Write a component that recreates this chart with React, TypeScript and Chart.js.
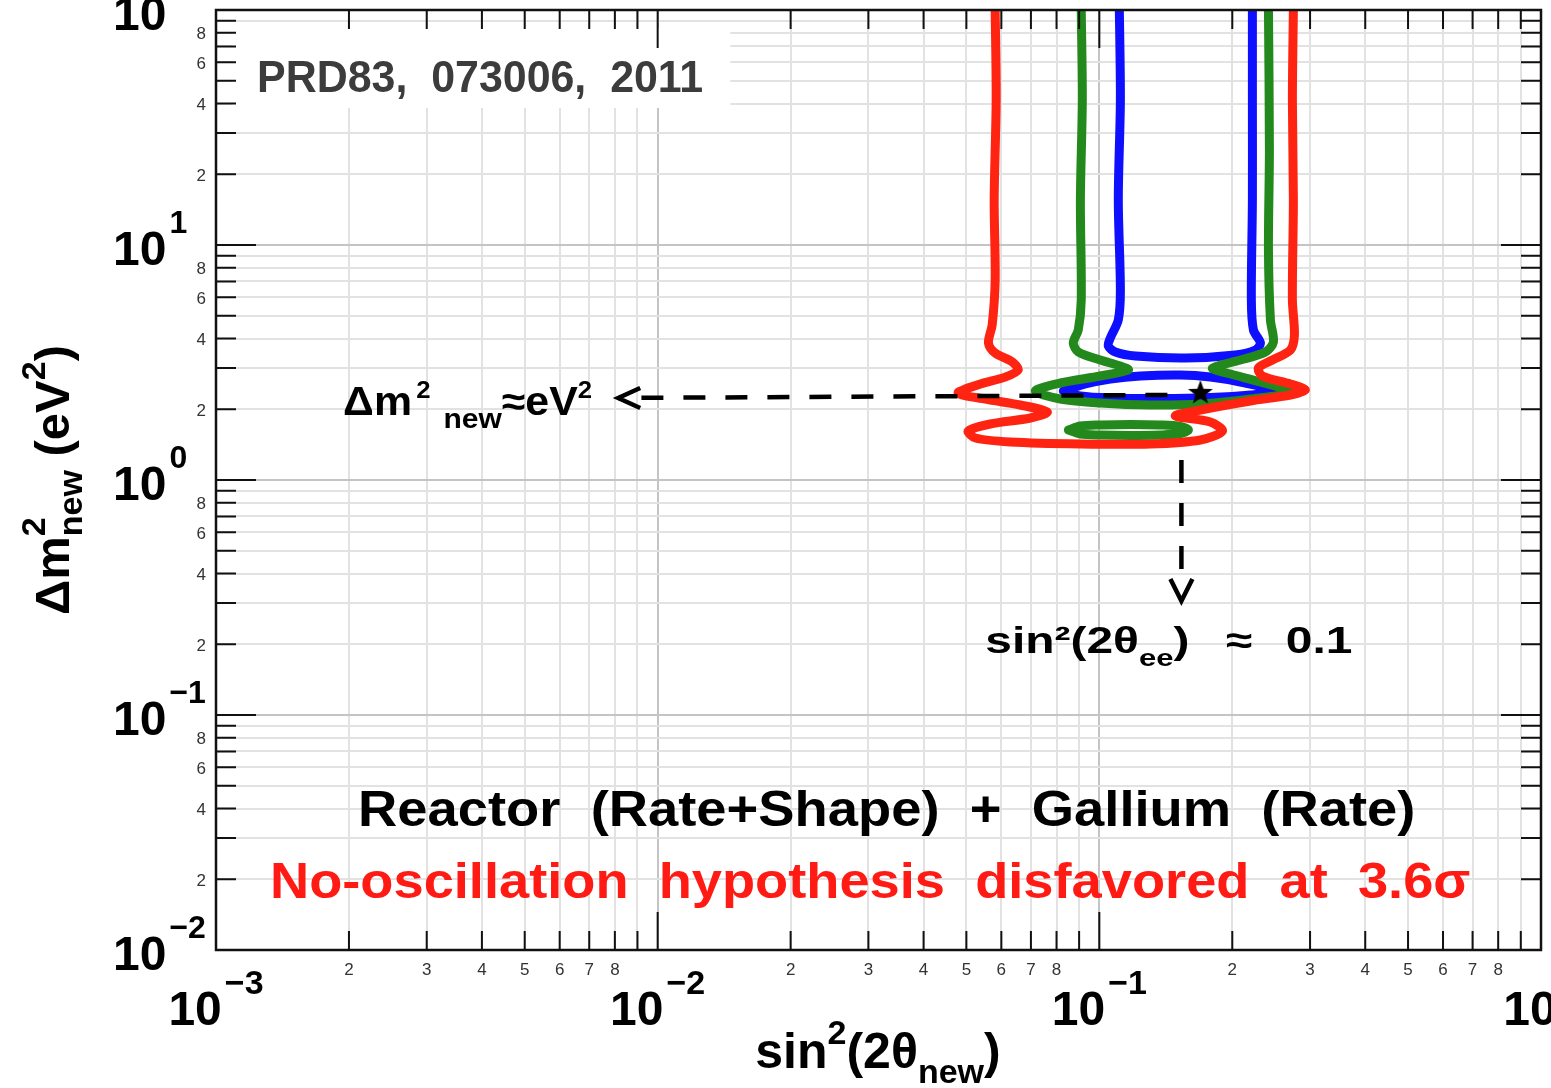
import React, { useEffect, useRef } from 'react';
import { Chart, registerables } from 'chart.js';

Chart.register(...registerables);

// ---------- axes ----------
const X_EXPONENTS = [-3, -2, -1, 0];
const Y_EXPONENTS = [-2, -1, 0, 1, 2];
const X_MINOR_LABELS = [2, 3, 4, 5, 6, 7, 8];
const Y_MINOR_LABELS = [2, 4, 6, 8];

// ---------- contours (sin^2(2θ), Δm^2) ----------
const RED_X = [0.0581, 0.0584, 0.0578, 0.0581, 0.0572, 0.0561, 0.0581, 0.0635, 0.0655, 0.0612, 0.0538, 0.0479, 0.0552, 0.0662, 0.0762, 0.0698, 0.0566, 0.0505, 0.0524, 0.0629, 0.0906, 0.1305, 0.1694, 0.190, 0.1784, 0.1486, 0.1694, 0.2198, 0.2708, 0.2928, 0.2708, 0.234, 0.2292, 0.2465, 0.2708, 0.2765, 0.2736, 0.275, 0.2736, 0.275];
const RED_Y = [100, 41.4, 15.54, 7.10, 4.57, 3.83, 3.47, 3.18, 2.94, 2.74, 2.56, 2.345, 2.21, 2.085, 1.947, 1.836, 1.731, 1.616, 1.509, 1.451, 1.423, 1.423, 1.48, 1.616, 1.765, 1.872, 1.986, 2.169, 2.30, 2.415, 2.562, 2.77, 3.00, 3.24, 3.574, 4.14, 5.83, 15.54, 41.4, 100];

const GREEN_X = [0.0910, 0.0915, 0.0906, 0.0910, 0.0896, 0.0873, 0.0896, 0.1005, 0.1116, 0.1163, 0.1005, 0.0816, 0.0716, 0.0816, 0.1005, 0.1305, 0.1694, 0.2198, 0.2708, 0.2316, 0.1981, 0.1803, 0.2086, 0.2377, 0.2478, 0.244, 0.2415, 0.2427, 0.2415];
const GREEN_Y = [100, 41.4, 15.54, 5.83, 4.35, 3.83, 3.505, 3.24, 3.055, 2.94, 2.77, 2.587, 2.391, 2.212, 2.127, 2.085, 2.106, 2.212, 2.368, 2.612, 2.825, 2.996, 3.24, 3.505, 3.866, 4.80, 9.52, 25.4, 100];

const GREEN_ISLAND_X = [0.0851, 0.0906, 0.1005, 0.1176, 0.1375, 0.1526, 0.1591, 0.1526, 0.1375, 0.1176, 0.1005, 0.0906, 0.0851];
const GREEN_ISLAND_Y = [1.632, 1.697, 1.714, 1.723, 1.714, 1.689, 1.632, 1.577, 1.554, 1.547, 1.554, 1.569, 1.632];

const BLUE_X = [0.1110, 0.1116, 0.1104, 0.1116, 0.1104, 0.1059, 0.1048, 0.1087, 0.1207, 0.1566, 0.2032, 0.2256, 0.2316, 0.2233, 0.2209, 0.2221, 0.2221, 0.2221];
const BLUE_Y = [100, 41.4, 15.54, 6.43, 4.80, 4.02, 3.717, 3.505, 3.37, 3.304, 3.403, 3.574, 3.828, 4.347, 5.83, 15.54, 41.4, 100];

const BLUE_ISLAND_X = [0.0829, 0.0930, 0.1059, 0.1239, 0.1526, 0.1784, 0.2086, 0.2531, 0.2198, 0.1784, 0.1375, 0.1059, 0.0906, 0.0829];
const BLUE_ISLAND_Y = [2.391, 2.562, 2.69, 2.77, 2.797, 2.743, 2.612, 2.391, 2.30, 2.245, 2.223, 2.234, 2.278, 2.391];

// best fit point and guide arrows
const STAR_X = [0.1694];
const STAR_Y = [2.368];
const H_ARROW_X = [0.1426, 0.00814];
const H_ARROW_Y = [2.30, 2.234];
const V_ARROW_X = [0.1534, 0.1534];
const V_ARROW_Y = [1.216, 0.4182];
const V_ARROW_TIP_Y = 0.3055;

// ---------- styling ----------
const FONT = '"Liberation Sans", Arial, Helvetica, sans-serif';
const RED = '#ff2412';
const GREEN = '#24891c';
const BLUE = '#0f0fff';

type Run = { t: string; s: number; dy?: number; dx?: number };
type Note = { runs: Run[]; x0: number; x1: number; y: number; color: string };

const NOTES: Note[] = [
  { runs: [{ t: 'PRD83,  073006,  2011', s: 44 }], x0: 0.001239, x1: 0.01268, y: 44.78, color: '#3c3c3c' },
  {
    runs: [
      { t: 'Δm', s: 40 },
      { t: '2', s: 24, dy: -17, dx: 4 },
      { t: 'new', s: 28, dy: 13, dx: 12 },
      { t: '≈eV', s: 40 },
      { t: '2', s: 24, dy: -17 },
    ],
    x0: 0.00194, x1: 0.007105, y: 1.891, color: '#000',
  },
  {
    runs: [
      { t: 'sin²(2θ', s: 37 },
      { t: 'ee', s: 24, dy: 13 },
      { t: ')', s: 37 },
      { t: '≈', s: 37, dx: 28 },
      { t: '0.1', s: 37, dx: 26 },
    ],
    x0: 0.05518, x1: 0.3741, y: 0.1836, color: '#000',
  },
  { runs: [{ t: 'Reactor  (Rate+Shape)  +  Gallium  (Rate)', s: 50 }], x0: 0.002097, x1: 0.5195, y: 0.0337, color: '#000' },
  { runs: [{ t: 'No-oscillation  hypothesis  disfavored  at  3.6σ', s: 50 }], x0: 0.001325, x1: 0.6922, y: 0.01665, color: '#ff1a14' },
];
const PRD_BOX = { x0: 0.001087, x1: 0.0146, y0: 38.28, y1: 83.8 };

const pts = (xs: number[], ys: number[]) => xs.map((x, i) => ({ x, y: ys[i] }));

function logTicks(exps: number[]) {
  const out: { v: number; major: boolean }[] = [];
  for (let i = 0; i < exps.length - 1; i++) {
    for (let m = 1; m <= 9; m++) out.push({ v: m * Math.pow(10, exps[i]), major: m === 1 });
  }
  out.push({ v: Math.pow(10, exps[exps.length - 1]), major: true });
  return out;
}

function runsWidth(ctx: CanvasRenderingContext2D, runs: Run[]) {
  let w = 0;
  for (const r of runs) {
    ctx.font = `bold ${r.s}px ${FONT}`;
    w += (r.dx || 0) + ctx.measureText(r.t).width;
  }
  return w;
}

function drawRuns(ctx: CanvasRenderingContext2D, runs: Run[], x: number, y: number) {
  ctx.textAlign = 'left';
  ctx.textBaseline = 'alphabetic';
  for (const r of runs) {
    ctx.font = `bold ${r.s}px ${FONT}`;
    x += r.dx || 0;
    ctx.fillText(r.t, x, y + (r.dy || 0));
    x += ctx.measureText(r.t).width;
  }
}

function supLabel(exp: number) {
  return exp < 0 ? '\u2212' + Math.abs(exp) : String(exp);
}

const overlay = {
  id: 'overlay',
  beforeDatasetsDraw(chart: any) {
    const { ctx, scales } = chart;
    const l = scales.x.getPixelForValue(PRD_BOX.x0);
    const r = scales.x.getPixelForValue(PRD_BOX.x1);
    const t = scales.y.getPixelForValue(PRD_BOX.y1);
    const b = scales.y.getPixelForValue(PRD_BOX.y0);
    ctx.save();
    ctx.fillStyle = '#ffffff';
    ctx.fillRect(l, t, r - l, b - t);
    ctx.restore();
  },
  afterDatasetsDraw(chart: any) {
    const { ctx, scales } = chart;
    ctx.save();
    ctx.strokeStyle = '#000';
    ctx.lineWidth = 4.5;
    ctx.lineJoin = 'miter';
    const hx = scales.x.getPixelForValue(H_ARROW_X[1]);
    const hy = scales.y.getPixelForValue(H_ARROW_Y[1]);
    ctx.beginPath();
    ctx.moveTo(hx + 22, hy - 10);
    ctx.lineTo(hx, hy);
    ctx.lineTo(hx + 22, hy + 10);
    ctx.stroke();
    const vx = scales.x.getPixelForValue(V_ARROW_X[1]);
    const vy = scales.y.getPixelForValue(V_ARROW_TIP_Y);
    ctx.beginPath();
    ctx.moveTo(vx - 11, vy - 22);
    ctx.lineTo(vx, vy);
    ctx.lineTo(vx + 11, vy - 22);
    ctx.stroke();
    ctx.restore();
  },
  afterDraw(chart: any) {
    const { ctx, chartArea: ca, scales } = chart;
    const xs = scales.x, ys = scales.y;
    ctx.save();

    // frame
    ctx.strokeStyle = '#111';
    ctx.lineWidth = 2.5;
    ctx.strokeRect(ca.left, ca.top, ca.right - ca.left, ca.bottom - ca.top);

    // tick marks
    ctx.lineWidth = 2;
    ctx.beginPath();
    for (const t of logTicks(X_EXPONENTS)) {
      const p = xs.getPixelForValue(t.v);
      const L = t.major ? 38 : 19;
      ctx.moveTo(p, ca.bottom); ctx.lineTo(p, ca.bottom - L);
      ctx.moveTo(p, ca.top); ctx.lineTo(p, ca.top + L);
    }
    for (const t of logTicks(Y_EXPONENTS)) {
      const p = ys.getPixelForValue(t.v);
      const L = t.major ? 40 : 20;
      ctx.moveTo(ca.left, p); ctx.lineTo(ca.left + L, p);
      ctx.moveTo(ca.right, p); ctx.lineTo(ca.right - L, p);
    }
    ctx.stroke();

    // y major labels
    ctx.fillStyle = '#000';
    ctx.textAlign = 'left';
    ctx.textBaseline = 'alphabetic';
    for (const e of Y_EXPONENTS) {
      const p = ys.getPixelForValue(Math.pow(10, e));
      ctx.font = `bold 48px ${FONT}`;
      ctx.fillText('10', 113, p + 20);
      const w = ctx.measureText('10').width;
      ctx.font = `bold 32px ${FONT}`;
      ctx.fillText(supLabel(e), 113 + w + 3, p - 12);
    }
    // y minor labels
    ctx.font = `17px ${FONT}`;
    ctx.fillStyle = '#333';
    ctx.textAlign = 'right';
    ctx.textBaseline = 'middle';
    for (let i = 0; i < Y_EXPONENTS.length - 1; i++) {
      for (const m of Y_MINOR_LABELS) {
        const p = ys.getPixelForValue(m * Math.pow(10, Y_EXPONENTS[i]));
        ctx.fillText(String(m), 206, p + 2);
      }
    }
    // x minor labels
    ctx.textAlign = 'center';
    ctx.textBaseline = 'alphabetic';
    for (let i = 0; i < X_EXPONENTS.length - 1; i++) {
      for (const m of X_MINOR_LABELS) {
        const p = xs.getPixelForValue(m * Math.pow(10, X_EXPONENTS[i]));
        ctx.fillText(String(m), p, 975);
      }
    }
    // x major labels
    ctx.fillStyle = '#000';
    ctx.textAlign = 'left';
    for (const e of X_EXPONENTS) {
      const p = xs.getPixelForValue(Math.pow(10, e));
      ctx.font = `bold 48px ${FONT}`;
      const w10 = ctx.measureText('10').width;
      ctx.font = `bold 34px ${FONT}`;
      const ws = ctx.measureText(supLabel(e)).width;
      const start = p - (w10 + 3 + ws) / 2;
      ctx.font = `bold 48px ${FONT}`;
      ctx.fillText('10', start, 1025);
      ctx.font = `bold 34px ${FONT}`;
      ctx.fillText(supLabel(e), start + w10 + 3, 994);
    }

    // axis titles
    const xTitle: Run[] = [
      { t: 'sin', s: 50 }, { t: '2', s: 34, dy: -24 }, { t: '(2θ', s: 50 }, { t: 'new', s: 34, dy: 15 }, { t: ')', s: 50 },
    ];
    const wx = runsWidth(ctx, xTitle);
    ctx.fillStyle = '#000';
    drawRuns(ctx, xTitle, 878 - wx / 2, 1068);

    const yTitle: Run[] = [
      { t: 'Δm', s: 49 }, { t: '2', s: 34, dy: -24 }, { t: 'new', s: 34, dy: 13, dx: -19 }, { t: ' (eV', s: 49 }, { t: '2', s: 34, dy: -24 }, { t: ')', s: 49 },
    ];
    ctx.save();
    ctx.translate(69, 480);
    ctx.rotate(-Math.PI / 2);
    const wy = runsWidth(ctx, yTitle);
    drawRuns(ctx, yTitle, -wy / 2, 0);
    ctx.restore();

    // annotations (stretched horizontally to the span they occupy)
    for (const n of NOTES) {
      const l = xs.getPixelForValue(n.x0);
      const r = xs.getPixelForValue(n.x1);
      const b = ys.getPixelForValue(n.y);
      const w0 = runsWidth(ctx, n.runs);
      const sx = (r - l) / w0;
      ctx.save();
      ctx.translate(l, b);
      ctx.scale(sx, 1);
      ctx.fillStyle = n.color;
      drawRuns(ctx, n.runs, 0, 0);
      ctx.restore();
    }
    ctx.restore();
  },
};

function makeStar() {
  const c = document.createElement('canvas');
  c.width = 30; c.height = 30;
  const g = c.getContext('2d')!;
  g.fillStyle = '#000';
  g.beginPath();
  for (let i = 0; i < 10; i++) {
    const rad = i % 2 === 0 ? 13 : 5.3;
    const a = -Math.PI / 2 + (i * Math.PI) / 5;
    const px = 15 + rad * Math.cos(a);
    const py = 16 + rad * Math.sin(a);
    if (i === 0) g.moveTo(px, py); else g.lineTo(px, py);
  }
  g.closePath();
  g.fill();
  return c;
}

export default function App() {
  const ref = useRef<HTMLCanvasElement>(null);
  useEffect(() => {
    document.body.style.margin = '0';
    document.body.style.overflow = 'hidden';
    const tickValues = (exps: number[]) => logTicks(exps).map((t) => ({ value: t.v }));
    const isMajor = (v: number) => Math.abs(Math.log10(v) - Math.round(Math.log10(v))) < 1e-6;
    const contour = (label: string, data: any, color: string) => ({
      label, data, borderColor: color, borderWidth: 9, pointRadius: 0, tension: 0.3, fill: false,
      borderCapStyle: 'round', borderJoinStyle: 'round',
    });
    const chart = new Chart(ref.current!, {
      type: 'line',
      data: {
        datasets: [
          { label: 'best fit', data: pts(STAR_X, STAR_Y), showLine: false, pointStyle: makeStar(), pointRadius: 15, borderColor: '#000', backgroundColor: '#000' } as any,
          { label: 'dm2 guide', data: pts(H_ARROW_X, H_ARROW_Y), borderColor: '#000', borderWidth: 4.5, borderDash: [22, 20], pointRadius: 0, tension: 0 },
          { label: 'sin2 guide', data: pts(V_ARROW_X, V_ARROW_Y), borderColor: '#000', borderWidth: 4.5, borderDash: [23, 20], pointRadius: 0, tension: 0 },
          contour('red', pts(RED_X, RED_Y), RED),
          contour('green island', pts(GREEN_ISLAND_X, GREEN_ISLAND_Y), GREEN),
          contour('green', pts(GREEN_X, GREEN_Y), GREEN),
          contour('blue island', pts(BLUE_ISLAND_X, BLUE_ISLAND_Y), BLUE),
          contour('blue', pts(BLUE_X, BLUE_Y), BLUE),
        ] as any,
      },
      options: {
        responsive: false,
        animation: false,
        events: [],
        layout: { autoPadding: false, padding: { top: 10, right: 10, left: 0, bottom: 0 } },
        plugins: { legend: { display: false }, tooltip: { enabled: false } },
        scales: {
          x: {
            type: 'logarithmic', min: 1e-3, max: 1,
            afterBuildTicks: (s: any) => { s.ticks = tickValues(X_EXPONENTS); },
            afterFit: (s: any) => { s.height = 138; s.paddingLeft = 0; s.paddingRight = 0; },
            ticks: { display: false, autoSkip: false },
            border: { display: false },
            grid: {
              drawTicks: false, lineWidth: 2,
              color: (c: any) => (isMajor(c.tick.value) ? '#c4c4c4' : '#e2e2e2'),
            },
          },
          y: {
            type: 'logarithmic', min: 1e-2, max: 1e2,
            afterBuildTicks: (s: any) => { s.ticks = tickValues(Y_EXPONENTS); },
            afterFit: (s: any) => { s.width = 216; s.paddingTop = 0; s.paddingBottom = 0; },
            ticks: { display: false, autoSkip: false },
            border: { display: false },
            grid: {
              drawTicks: false, lineWidth: 2,
              color: (c: any) => (isMajor(c.tick.value) ? '#c4c4c4' : '#e2e2e2'),
            },
          },
        },
      } as any,
      plugins: [overlay],
    });
    return () => chart.destroy();
  }, []);
  return <canvas ref={ref} width={1551} height={1088} style={{ display: 'block', width: 1551, height: 1088 }} />;
}
